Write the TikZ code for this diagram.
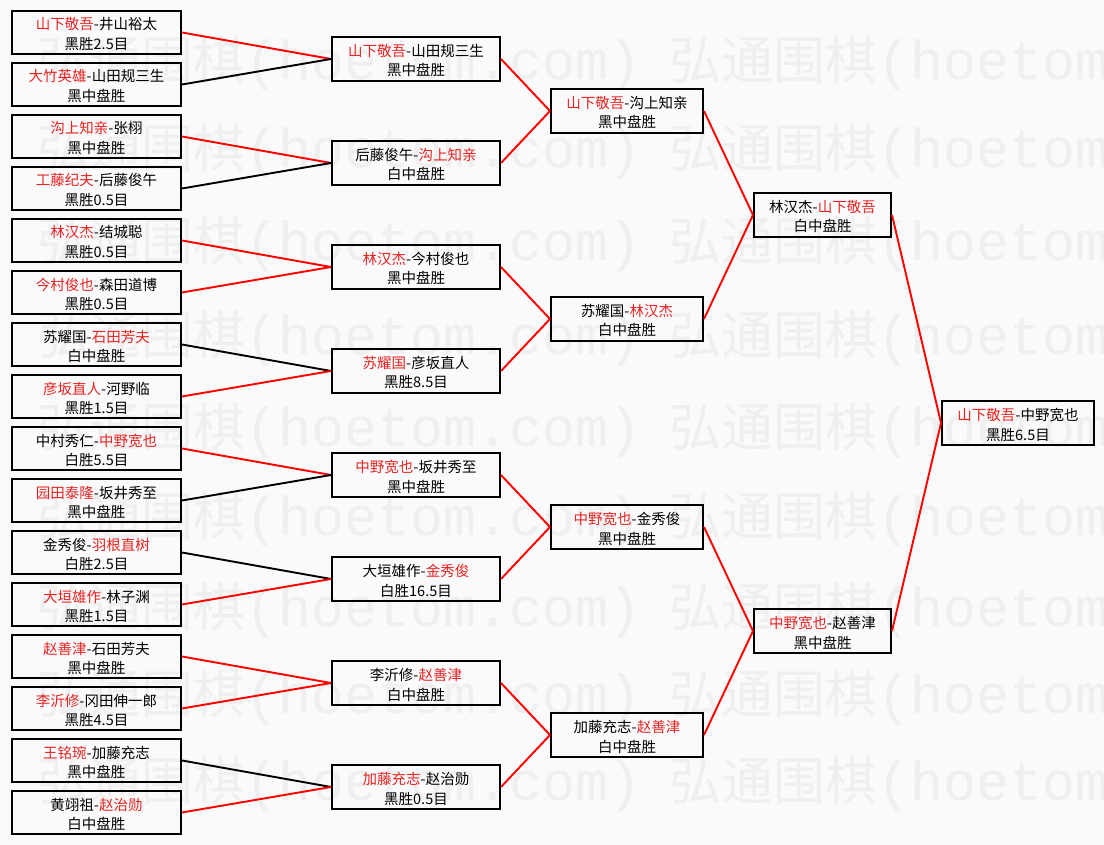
\documentclass[tikz,border=0pt]{standalone}
\usepackage{fontspec}
\setmainfont{Noto Sans CJK SC}
\newfontfamily\wmcjk{Noto Sans CJK SC}
\newfontfamily\wmmono{Liberation Mono}
\definecolor{wr}{RGB}{230,35,35}
\definecolor{bgc}{RGB}{250,250,250}
\definecolor{wmc}{RGB}{239,239,239}
\newcommand{\R}[1]{\textcolor{wr}{#1}}
\newcommand{\wmtext}{{\fontsize{52}{52}\selectfont\wmcjk 弘通围棋}{\fontsize{55}{55}\selectfont\wmmono (hoetom.com)}}
\tikzset{
  box/.style={draw=black, line width=2.3pt, inner sep=0pt, align=center,
    font=\fontsize{14.5}{19.5}\selectfont, text=black,
    text height=38pt, text depth=4pt},
  bA/.style={box, minimum width=168.7pt, minimum height=42.7pt},
  bB/.style={box, minimum width=167.7pt, minimum height=43.7pt},
  bC/.style={box, minimum width=151.7pt, minimum height=43.7pt},
  bD/.style={box, minimum width=136.7pt, minimum height=43.7pt},
  lr/.style={draw=red, line width=1.9pt},
  lk/.style={draw=black, line width=1.9pt},
  wm/.style={text=wmc, inner sep=0pt, anchor=base west},
}
\begin{document}
\begin{tikzpicture}[x=1pt,y=-1pt]
\useasboundingbox (0,0) rectangle (1104,845);
\fill[bgc] (0,0) rectangle (1104,845);
% watermark
\begin{scope}
\clip (0,0) rectangle (1104,845);
\foreach \yy in {62,150,243,336,428,517,608,695,782}{
  \foreach \xx in {37,669}{
    \node[wm] at (\xx,\yy+18) {\wmtext};
  }
}
\end{scope}
% round 1
\node[bA] (a1)  at (96.5,32.5)  {\R{山下敬吾}-井山裕太\\黑胜2.5目};
\node[bA] (a2)  at (96.5,84.5)  {\R{大竹英雄}-山田规三生\\黑中盘胜};
\node[bA] (a3)  at (96.5,136.5) {\R{沟上知亲}-张栩\\黑中盘胜};
\node[bA] (a4)  at (96.5,188.5) {\R{工藤纪夫}-后藤俊午\\黑胜0.5目};
\node[bA] (a5)  at (96.5,240.5) {\R{林汉杰}-结城聪\\黑胜0.5目};
\node[bA] (a6)  at (96.5,292.5) {\R{今村俊也}-森田道博\\黑胜0.5目};
\node[bA] (a7)  at (96.5,344.5) {苏耀国-\R{石田芳夫}\\白中盘胜};
\node[bA] (a8)  at (96.5,396.5) {\R{彦坂直人}-河野临\\黑胜1.5目};
\node[bA] (a9)  at (96.5,448.5) {中村秀仁-\R{中野宽也}\\白胜5.5目};
\node[bA] (a10) at (96.5,500.5) {\R{园田泰隆}-坂井秀至\\黑中盘胜};
\node[bA] (a11) at (96.5,552.5) {金秀俊-\R{羽根直树}\\白胜2.5目};
\node[bA] (a12) at (96.5,604.5) {\R{大垣雄作}-林子渊\\黑胜1.5目};
\node[bA] (a13) at (96.5,656.5) {\R{赵善津}-石田芳夫\\黑中盘胜};
\node[bA] (a14) at (96.5,708.5) {\R{李沂修}-冈田伸一郎\\黑胜4.5目};
\node[bA] (a15) at (96.5,760.5) {\R{王铭琬}-加藤充志\\黑中盘胜};
\node[bA] (a16) at (96.5,812.5) {黄翊祖-\R{赵治勋}\\白中盘胜};
% round 2
\node[bB] (b1) at (416,59)  {\R{山下敬吾}-山田规三生\\黑中盘胜};
\node[bB] (b2) at (416,163) {后藤俊午-\R{沟上知亲}\\白中盘胜};
\node[bB] (b3) at (416,267) {\R{林汉杰}-今村俊也\\黑中盘胜};
\node[bB] (b4) at (416,371) {\R{苏耀国}-彦坂直人\\黑胜8.5目};
\node[bB] (b5) at (416,475) {\R{中野宽也}-坂井秀至\\黑中盘胜};
\node[bB] (b6) at (416,579) {大垣雄作-\R{金秀俊}\\白胜16.5目};
\node[bB] (b7) at (416,683) {李沂修-\R{赵善津}\\白中盘胜};
\node[bB] (b8) at (416,787) {\R{加藤充志}-赵治勋\\黑胜0.5目};
% round 3
\node[bC] (c1) at (627,111) {\R{山下敬吾}-沟上知亲\\黑中盘胜};
\node[bC] (c2) at (627,319) {苏耀国-\R{林汉杰}\\白中盘胜};
\node[bC] (c3) at (627,527) {\R{中野宽也}-金秀俊\\黑中盘胜};
\node[bC] (c4) at (627,735) {加藤充志-\R{赵善津}\\白中盘胜};
% round 4
\node[bD] (d1) at (822.5,215) {林汉杰-\R{山下敬吾}\\白中盘胜};
\node[bD] (d2) at (822.5,631) {\R{中野宽也}-赵善津\\黑中盘胜};
% final
\node[bC] (f) at (1018,423) {\R{山下敬吾}-中野宽也\\黑胜6.5目};
% connectors round 1 -> 2
\draw[lr] (a1.east)  -- (b1.west);
\draw[lk] (a2.east)  -- (b1.west);
\draw[lr] (a3.east)  -- (b2.west);
\draw[lk] (a4.east)  -- (b2.west);
\draw[lr] (a5.east)  -- (b3.west);
\draw[lr] (a6.east)  -- (b3.west);
\draw[lk] (a7.east)  -- (b4.west);
\draw[lr] (a8.east)  -- (b4.west);
\draw[lr] (a9.east)  -- (b5.west);
\draw[lk] (a10.east) -- (b5.west);
\draw[lk] (a11.east) -- (b6.west);
\draw[lr] (a12.east) -- (b6.west);
\draw[lr] (a13.east) -- (b7.west);
\draw[lr] (a14.east) -- (b7.west);
\draw[lk] (a15.east) -- (b8.west);
\draw[lr] (a16.east) -- (b8.west);
% round 2 -> 3
\draw[lr] (b1.east) -- (c1.west);
\draw[lr] (b2.east) -- (c1.west);
\draw[lr] (b3.east) -- (c2.west);
\draw[lr] (b4.east) -- (c2.west);
\draw[lr] (b5.east) -- (c3.west);
\draw[lr] (b6.east) -- (c3.west);
\draw[lr] (b7.east) -- (c4.west);
\draw[lr] (b8.east) -- (c4.west);
% round 3 -> 4
\draw[lr] (c1.east) -- (d1.west);
\draw[lr] (c2.east) -- (d1.west);
\draw[lr] (c3.east) -- (d2.west);
\draw[lr] (c4.east) -- (d2.west);
% round 4 -> final
\draw[lr] (d1.east) -- (f.west);
\draw[lr] (d2.east) -- (f.west);
\end{tikzpicture}
\end{document}
